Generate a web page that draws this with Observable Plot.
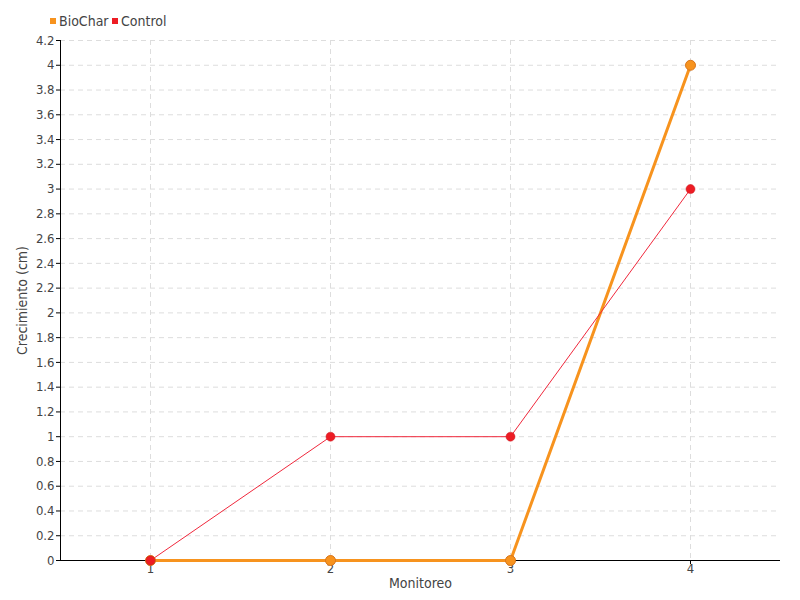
<!DOCTYPE html>
<html><head><meta charset="utf-8">
<script src="https://cdn.jsdelivr.net/npm/d3@7"></script>
<script src="https://cdn.jsdelivr.net/npm/@observablehq/plot@0.6"></script>
<style>
body{margin:0;background:#fff;font-family:"DejaVu Sans Condensed","DejaVu Sans",sans-serif;font-stretch:condensed;}
#legend{height:30px;position:relative;font-size:14px;color:#444;}
#legend span.item{position:absolute;top:13px;display:flex;align-items:center;}
#legend i{display:inline-block;width:6px;height:6px;margin-right:3px;}
svg text{font-stretch:condensed;}
</style></head>
<body>
<div id="legend"></div>
<div id="chart"></div>
<script>
const monitoreo = [1, 2, 3, 4];
const biochar = [0, 0, 0, 4];
const control = [0, 1, 1, 3];
const seriesNames = ["BioChar", "Control"];
const seriesColors = ["#f7931e", "#ed1c24"];
const yTicks = d3.range(0, 22).map(i => +(i * 0.2).toFixed(1));

const rows = [];
monitoreo.forEach((m, i) => {
  rows.push({x: m, y: biochar[i], s: "BioChar"});
  rows.push({x: m, y: control[i], s: "Control"});
});
const bio = rows.filter(d => d.s === "BioChar");
const ctl = rows.filter(d => d.s === "Control");

const leg = document.getElementById("legend");
const legX = [50, 112];
seriesNames.forEach((n, i) => {
  const sp = document.createElement("span");
  sp.className = "item";
  sp.style.left = legX[i] + "px";
  sp.innerHTML = `<i style="background:${seriesColors[i]}"></i>${n}`;
  leg.appendChild(sp);
});

const fmt = d => String(+(+d).toFixed(1));
const ff = '"DejaVu Sans Condensed","DejaVu Sans",sans-serif';
const chart = Plot.plot({
  width: 800, height: 570,
  marginLeft: 60, marginRight: 20, marginTop: 10, marginBottom: 40,
  style: {fontFamily: ff, fontSize: "14px", color: "#444", background: "#fff"},
  x: {domain: [0.5, 4.5], ticks: monitoreo, tickFormat: fmt},
  y: {domain: [0, 4.2], ticks: yTicks, tickFormat: fmt},
  marks: [
    Plot.gridY(yTicks, {stroke: "#ddd", strokeOpacity: 1, strokeDasharray: "5,4"}),
    Plot.gridX(monitoreo, {stroke: "#ddd", strokeOpacity: 1, strokeDasharray: "5,4"}),
    Plot.axisY(yTicks, {tickFormat: fmt, tickSize: 4, tickPadding: 2, fontSize: 13, color: "#444", stroke: "#000", label: null}),
    Plot.axisX(monitoreo, {tickFormat: fmt, tickSize: 4, tickPadding: -1, fontSize: 13, color: "#444", stroke: "#000", label: null}),
    Plot.ruleX([0.5], {stroke: "#000"}),
    Plot.ruleY([0], {stroke: "#000"}),
    Plot.line(bio, {x: "x", y: "y", stroke: seriesColors[0], strokeWidth: 3}),
    Plot.line(ctl, {x: "x", y: "y", stroke: "#f0283c", strokeWidth: 1}),
    Plot.dot(bio, {x: "x", y: "y", r: 5, fill: seriesColors[0], stroke: "#d9751a", strokeWidth: 1}),
    Plot.dot(ctl, {x: "x", y: "y", r: 4.5, fill: seriesColors[1], stroke: "#c8141a", strokeWidth: 0.5}),
    Plot.text(["Crecimiento (cm)"], {frameAnchor: "left", textAnchor: "middle", rotate: -90, dx: -38, fontSize: 14, fill: "#444"}),
    Plot.text(["Monitoreo"], {frameAnchor: "bottom", dy: 27, fontSize: 14, fill: "#444"})
  ]
});
document.getElementById("chart").appendChild(chart);
</script>
</body></html>
